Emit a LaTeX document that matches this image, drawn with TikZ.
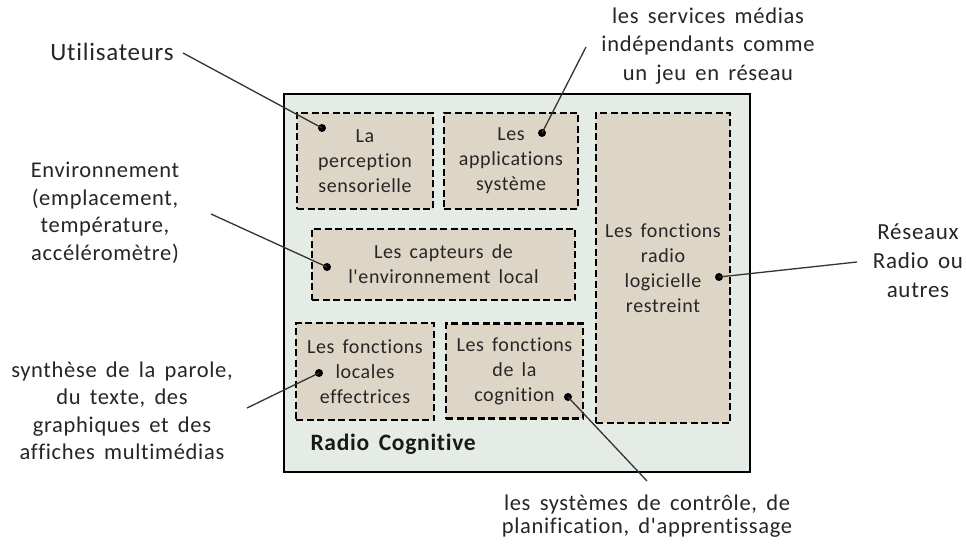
\documentclass[tikz,border=0pt]{standalone}
\usepackage{fontspec}
\setmainfont{Carlito}[Ligatures={CommonOff,TeXOff}, LetterSpace=3, WordSpace=1.6]
\begin{document}
\begin{tikzpicture}[x=1pt,y=-1pt,
  txt/.style={text=black!85, align=center, font=\fontsize{20}{26}\selectfont},
  lbl/.style={txt, font=\fontsize{22.5}{27.5}\selectfont},
  outerbox/.style={draw=black, line width=2.8pt, fill=outerfill, inner sep=0pt},
  innerbox/.style={draw=black, line width=2.4pt, dash pattern=on 7pt off 3.5pt,
    fill=innerfill, inner sep=0pt, txt, font=\fontsize{20}{25}\selectfont},
  dot/.style={circle, fill=black, inner sep=0pt, minimum size=8pt},
  wire/.style={draw=black!80, line width=1.3pt}]
\definecolor{outerfill}{HTML}{E5EBE5}
\definecolor{innerfill}{HTML}{DDD5C5}
\useasboundingbox (0,0) rectangle (966,545);
\fill[white] (0,0) rectangle (966,545);

% container
\node[outerbox, minimum width=466, minimum height=378] (rc) at (517,283) {};
\node[anchor=west, font=\fontsize{23.5}{28}\selectfont\bfseries, text=black!90] (rctitle) at (307,444) {Radio Cognitive};

% function blocks
\node[innerbox, minimum width=136, minimum height=96] (perc) at (365,161)
  {La\\perception\\sensorielle};
\node[innerbox, minimum width=134, minimum height=96] (apps) at (511,161)
  {Les\\applications\\système};
\node[innerbox, minimum width=134, minimum height=310] (radio) at (663,268)
  {Les fonctions\\radio\\logicielle\\restreint};
\node[innerbox, minimum width=263, minimum height=71] (capt) at (443.5,264.5)
  {Les capteurs de\\l'environnement local};
\node[innerbox, minimum width=138, minimum height=97] (loc) at (365,371.5)
  {Les fonctions\\locales\\effectrices};
\node[innerbox, minimum width=137, minimum height=95] (cogn) at (514.5,371)
  {Les fonctions\\de la\\cognition};

% attachment dots
\node[dot] (dperc) at (322,128) {};
\node[dot] (dapps) at (542,133) {};
\node[dot] (dcapt) at (327,267) {};
\node[dot] (dradio) at (719,277) {};
\node[dot] (dloc) at (319,373) {};
\node[dot] (dcogn) at (568,397) {};

% outside labels
\node[lbl, font=\fontsize{25}{28}\selectfont] (users) at (112,52) {Utilisateurs};
\node[lbl, font=\fontsize{22.5}{28.5}\selectfont] (media) at (708,46) {les services médias\\indépendants comme\\un jeu en réseau};
\node[lbl] (env) at (105,213) {Environnement\\(emplacement,\\température,\\accéléromètre)};
\node[lbl, font=\fontsize{23}{29}\selectfont] (nets) at (918,261) {Réseaux\\Radio ou\\autres};
\node[lbl] (synth) at (122,411) {synthèse de la parole,\\du texte, des\\graphiques et des\\affiches multimédias};
\node[lbl, font=\fontsize{22.5}{23}\selectfont] (ctrl) at (647,516) {les systèmes de contrôle, de\\planification, d'apprentissage};

% free ends of the leader lines
\coordinate (cusers) at (183,53);
\coordinate (cmedia) at (586,47);
\coordinate (cenv) at (211,214);
\coordinate (cnets) at (857,262);
\coordinate (csynth) at (247,408);
\coordinate (cctrl) at (647,481);

% leader lines
\draw[wire] (cusers) -- (dperc.center);
\draw[wire] (cmedia) -- (dapps.center);
\draw[wire] (cenv) -- (dcapt.center);
\draw[wire] (cnets) -- (dradio.center);
\draw[wire] (csynth) -- (dloc.center);
\draw[wire] (cctrl) -- (dcogn.center);
\end{tikzpicture}
\end{document}
